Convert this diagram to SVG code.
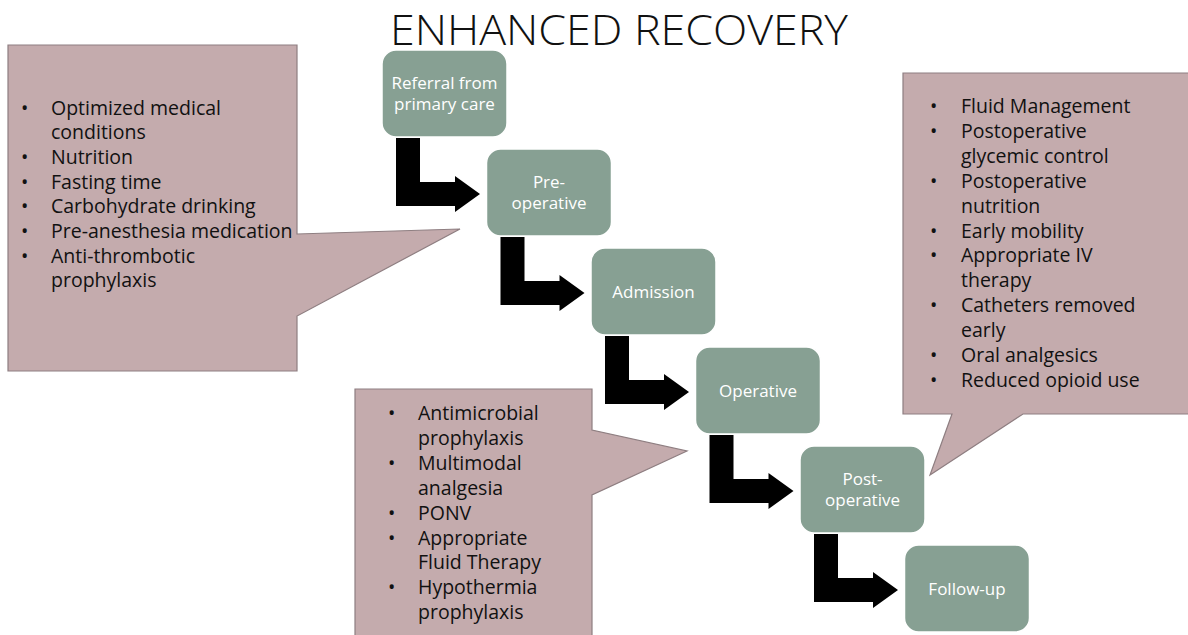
<svg xmlns="http://www.w3.org/2000/svg" width="1188" height="635" viewBox="0 0 1188 635">
<style>
.callout{fill:#C4ABAD;stroke:#8E7E81;stroke-width:1.2}
.box{fill:#87A093;stroke:#FFFFFF;stroke-width:1.5}
.arrow{fill:#000000}
.bt{font-family:"Open Sans","Noto Sans",sans-serif;font-size:17px;fill:#FFFFFF;text-anchor:middle}
.lt{font-family:"Open Sans","Noto Sans",sans-serif;font-size:19.5px;fill:#111111}
.title{font-family:"Open Sans","Noto Sans",sans-serif;font-size:43px;font-weight:300;fill:#111111;text-anchor:middle}
</style>
<rect x="0" y="0" width="1188" height="635" fill="#FFFFFF"/>
<text class="title" x="619" y="45" textLength="458" lengthAdjust="spacingAndGlyphs">ENHANCED RECOVERY</text>

<g id="callout-preop">
<path class="callout" d="M8,45 H297 V234 L460,229 L297,316 V371 H8 Z"/>
<g class="lt">
<text x="21" y="114.5">•</text><text x="51" y="114.5">Optimized medical</text>
<text x="51" y="139.2">conditions</text>
<text x="21" y="163.9">•</text><text x="51" y="163.9">Nutrition</text>
<text x="21" y="188.6">•</text><text x="51" y="188.6">Fasting time</text>
<text x="21" y="213.3">•</text><text x="51" y="213.3">Carbohydrate drinking</text>
<text x="21" y="238">•</text><text x="51" y="238">Pre-anesthesia medication</text>
<text x="21" y="262.7">•</text><text x="51" y="262.7">Anti-thrombotic</text>
<text x="51" y="287.4">prophylaxis</text>
</g>
</g>

<g id="callout-operative">
<path class="callout" d="M355,389 H592 V430 L687,451 L592,495 V640 H355 Z"/>
<g class="lt">
<text x="388" y="420">•</text><text x="418" y="420">Antimicrobial</text>
<text x="418" y="444.9">prophylaxis</text>
<text x="388" y="469.8">•</text><text x="418" y="469.8">Multimodal</text>
<text x="418" y="494.7">analgesia</text>
<text x="388" y="519.6">•</text><text x="418" y="519.6">PONV</text>
<text x="388" y="544.5">•</text><text x="418" y="544.5">Appropriate</text>
<text x="418" y="569.4">Fluid Therapy</text>
<text x="388" y="594.3">•</text><text x="418" y="594.3">Hypothermia</text>
<text x="418" y="619.2">prophylaxis</text>
</g>
</g>

<g id="callout-postop">
<path class="callout" d="M903,73 H1192 V414 H1023 L930,475 L952,414 H903 Z"/>
<g class="lt">
<text x="930" y="113">•</text><text x="961" y="113">Fluid Management</text>
<text x="930" y="137.9">•</text><text x="961" y="137.9">Postoperative</text>
<text x="961" y="162.8">glycemic control</text>
<text x="930" y="187.7">•</text><text x="961" y="187.7">Postoperative</text>
<text x="961" y="212.6">nutrition</text>
<text x="930" y="237.5">•</text><text x="961" y="237.5">Early mobility</text>
<text x="930" y="262.4">•</text><text x="961" y="262.4">Appropriate IV</text>
<text x="961" y="287.3">therapy</text>
<text x="930" y="312.2">•</text><text x="961" y="312.2">Catheters removed</text>
<text x="961" y="337.1">early</text>
<text x="930" y="362">•</text><text x="961" y="362">Oral analgesics</text>
<text x="930" y="386.9">•</text><text x="961" y="386.9">Reduced opioid use</text>
</g>
</g>

<g id="connectors">
<path class="arrow" d="M396,138 H420 V182 H455 V176 L480,194 L455,212 V206 H396 Z"/>
<path class="arrow" transform="translate(104.5,99)" d="M396,138 H420 V182 H455 V176 L480,194 L455,212 V206 H396 Z"/>
<path class="arrow" transform="translate(209,198)" d="M396,138 H420 V182 H455 V176 L480,194 L455,212 V206 H396 Z"/>
<path class="arrow" transform="translate(313.5,297)" d="M396,138 H420 V182 H455 V176 L480,194 L455,212 V206 H396 Z"/>
<path class="arrow" transform="translate(418,396)" d="M396,138 H420 V182 H455 V176 L480,194 L455,212 V206 H396 Z"/>
</g>

<g id="node-referral">
<rect class="box" x="382" y="50" width="125" height="87" rx="14"/>
<text class="bt" x="444.5" y="88.5">Referral from</text>
<text class="bt" x="444.5" y="110">primary care</text>
</g>
<g id="node-preoperative">
<rect class="box" x="486.5" y="149" width="125" height="87" rx="14"/>
<text class="bt" x="549" y="187.5">Pre-</text>
<text class="bt" x="549" y="209">operative</text>
</g>
<g id="node-admission">
<rect class="box" x="591" y="248" width="125" height="87" rx="14"/>
<text class="bt" x="653.5" y="297.5">Admission</text>
</g>
<g id="node-operative">
<rect class="box" x="695.5" y="347" width="125" height="87" rx="14"/>
<text class="bt" x="758" y="396.5">Operative</text>
</g>
<g id="node-postoperative">
<rect class="box" x="800" y="446" width="125" height="87" rx="14"/>
<text class="bt" x="862.5" y="484.5">Post-</text>
<text class="bt" x="862.5" y="506">operative</text>
</g>
<g id="node-followup">
<rect class="box" x="904.5" y="545" width="125" height="87" rx="14"/>
<text class="bt" x="967" y="594.5">Follow-up</text>
</g>
</svg>
